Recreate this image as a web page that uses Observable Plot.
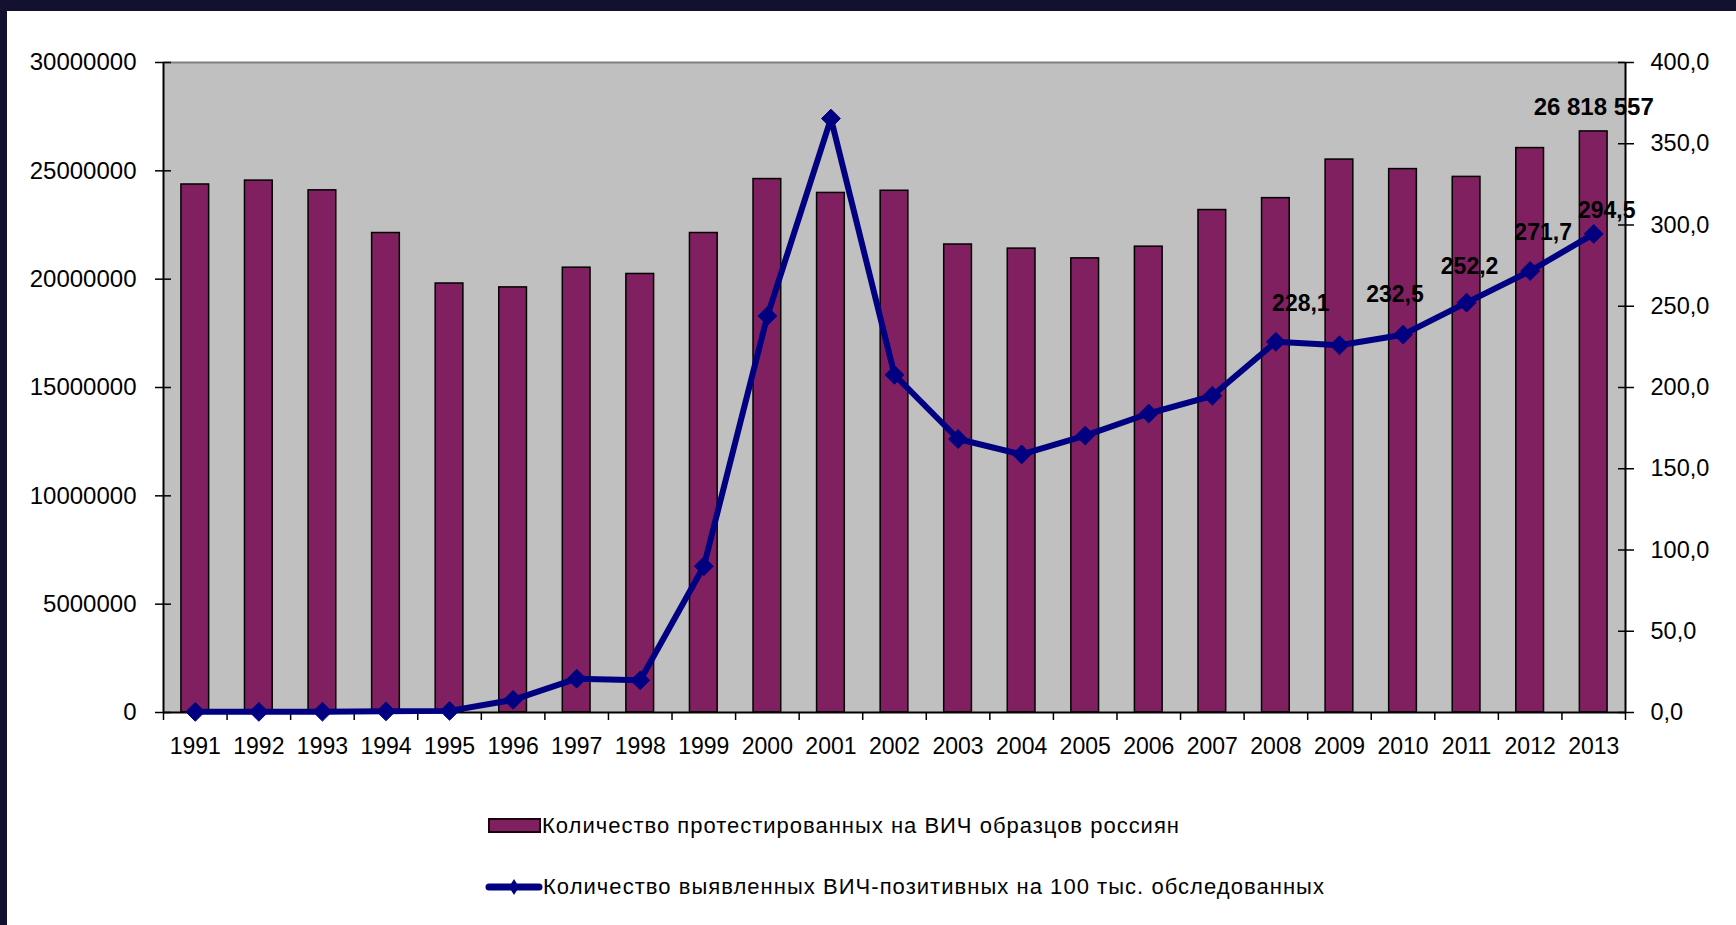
<!DOCTYPE html>
<html>
<head>
<meta charset="utf-8">
<script src="https://cdn.jsdelivr.net/npm/d3@7"></script>
<script src="https://cdn.jsdelivr.net/npm/@observablehq/plot@0.6"></script>
<style>
html, body { margin: 0; padding: 0; background: #fff; width: 1736px; height: 925px; overflow: hidden;
  font-family: "Liberation Sans", Arial, sans-serif; }
#topbar { position: absolute; left: 0; top: 0; width: 1736px; height: 11px; background: #12112f; }
#leftbar { position: absolute; left: 0; top: 0; width: 7px; height: 925px; background: #12112f; }
#chart { position: absolute; left: 0; top: 0; }
.leg { position: absolute; display: flex; align-items: center; height: 30px; font-size: 22px;
  color: #000; white-space: nowrap; }
.leg .sw { flex: none; }
</style>
</head>
<body>
<div id="chart"></div>
<div id="legend"></div>
<div id="topbar"></div>
<div id="leftbar"></div>
<script>
// ---- data ----
const years = [1991, 1992, 1993, 1994, 1995, 1996, 1997, 1998, 1999, 2000, 2001, 2002,
               2003, 2004, 2005, 2006, 2007, 2008, 2009, 2010, 2011, 2012, 2013];
const tested = [24370000, 24550000, 24100000, 22130000, 19800000, 19620000, 20530000, 20240000,
                22130000, 24620000, 23980000, 24080000, 21600000, 21410000, 20960000, 21500000,
                23190000, 23740000, 25520000, 25080000, 24720000, 26050000, 26818557];
const ratePer100k = [0.4, 0.4, 0.5, 0.7, 1.0, 7.8, 20.8, 19.8, 90.0, 244.0, 365.5, 207.8,
                     168.3, 158.8, 170.4, 184.0, 194.9, 228.1, 226.0, 232.5, 252.2, 271.7, 294.5];
const labeledYears = [2008, 2010, 2011, 2012, 2013];
const barLabelYears = [2013];
const leftTicks = [0, 5000000, 10000000, 15000000, 20000000, 25000000, 30000000];
const rightTicks = [0, 50, 100, 150, 200, 250, 300, 350, 400];
const seriesNames = [
  "Количество протестированных на ВИЧ образцов россиян",
  "Количество выявленных ВИЧ-позитивных на 100 тыс. обследованных"
];

// ---- layout / style (label placement nudges, px) ----
const labelNudge = { 2008: [25, -38], 2010: [-8, -40], 2011: [3, -36], 2012: [13, -38], 2013: [13, -23] };

// ---- chart ----
const colBar = "#802060", colLine = "#000080";
const leftMax = leftTicks[leftTicks.length - 1];
const rightMax = rightTicks[rightTicks.length - 1];
const k = leftMax / rightMax; // maps right-axis values onto left scale
const fmt = v => v.toFixed(1).replace(".", ",");
const rows = years.map((year, i) => ({ year, tested: tested[i], rate: ratePer100k[i] }));
const first = years[0], last = years[years.length - 1];
const boundaries = years.map(y => y - 0.5).concat([last + 0.5]);
const font = '"Liberation Sans", Arial, sans-serif';

const labelMarks = labeledYears.map(yr => Plot.text(rows.filter(d => d.year === yr), {
  x: "year", y: d => d.rate * k, text: d => fmt(d.rate),
  dx: labelNudge[yr][0], dy: labelNudge[yr][1], fontSize: 23, fontWeight: "bold", fill: "#000"
}));

const chart = Plot.plot({
  width: 1736, height: 780,
  marginTop: 62, marginBottom: 68, marginLeft: 163, marginRight: 111,
  style: { fontFamily: font, background: "transparent", overflow: "visible", color: "#000" },
  x: { domain: [first - 0.5, last + 0.5], label: null },
  y: { domain: [0, leftMax], label: null },
  marks: [
    Plot.frame({ fill: "#c0c0c0", stroke: "none" }),
    Plot.ruleY([leftMax], { stroke: "#808080", strokeWidth: 2 }),
    Plot.rectY(rows, { x1: d => d.year - 0.218, x2: d => d.year + 0.218, y: "tested",
      fill: colBar, stroke: "#000", strokeWidth: 1.5 }),
    Plot.ruleY([0], { stroke: "#000", strokeWidth: 2 }),
    Plot.ruleX([first - 0.5, last + 0.5], { stroke: "#000", strokeWidth: 2 }),
    Plot.axisX(boundaries, { tickSize: 8, fill: "none", stroke: "#000", strokeWidth: 1.5, label: null }),
    Plot.axisX(years, { tickSize: 0, tickPadding: 25, tickFormat: d => String(d),
      fontSize: 23, fill: "#000", label: null }),
    Plot.axisY(leftTicks, { anchor: "left", tickSize: 16, dx: 8, fill: "none",
      stroke: "#000", strokeWidth: 1.5, label: null }),
    Plot.axisY(leftTicks, { anchor: "left", tickSize: 0, tickPadding: 27,
      tickFormat: d => String(d), fontSize: 24, fill: "#000", label: null }),
    Plot.axisY(rightTicks.map(v => v * k), { anchor: "right", tickSize: 16, dx: -8, fill: "none",
      stroke: "#000", strokeWidth: 1.5, label: null }),
    Plot.axisY(rightTicks.map(v => v * k), { anchor: "right", tickSize: 0, tickPadding: 25,
      tickFormat: d => fmt(d / k), fontSize: 23.5, fill: "#000", label: null }),
    Plot.line(rows, { x: "year", y: d => d.rate * k, stroke: colLine, strokeWidth: 6 }),
    Plot.dot(rows, { x: "year", y: d => d.rate * k, symbol: "diamond2", r: 8.5,
      fill: colLine, stroke: colLine, strokeWidth: 1 }),
    ...labelMarks,
    Plot.text(rows.filter(d => barLabelYears.includes(d.year)), { x: "year", y: "tested",
      text: d => d3.format(",")(d.tested).replace(/,/g, " "), dy: -24, fontSize: 24,
      fontWeight: "bold", fill: "#000" })
  ]
});
document.getElementById("chart").appendChild(chart);

// ---- legend ----
const legend = document.getElementById("legend");
const legendItems = [
  { name: seriesNames[0], left: 488, top: 811, textWidth: 638,
    swatch: `<svg class="sw" width="54" height="16"><rect x="1" y="1" width="51" height="13" fill="${colBar}" stroke="#1a0010" stroke-width="2"/></svg>` },
  { name: seriesNames[1], left: 485, top: 872, textWidth: 782,
    swatch: `<svg class="sw" width="58" height="20"><line x1="4" y1="10" x2="54" y2="10" stroke="${colLine}" stroke-width="7" stroke-linecap="round"/><path d="M29,2 L34,10 L29,18 L24,10 Z" fill="${colLine}"/></svg>` }
];
legendItems.forEach(it => {
  const row = document.createElement("div");
  row.className = "leg";
  row.style.left = it.left + "px";
  row.style.top = it.top + "px";
  row.innerHTML = it.swatch;
  const span = document.createElement("span");
  span.textContent = it.name;
  row.appendChild(span);
  legend.appendChild(row);
  const w = span.getBoundingClientRect().width;
  span.style.letterSpacing = ((it.textWidth - w) / it.name.length).toFixed(3) + "px";
});
</script>
</body>
</html>
